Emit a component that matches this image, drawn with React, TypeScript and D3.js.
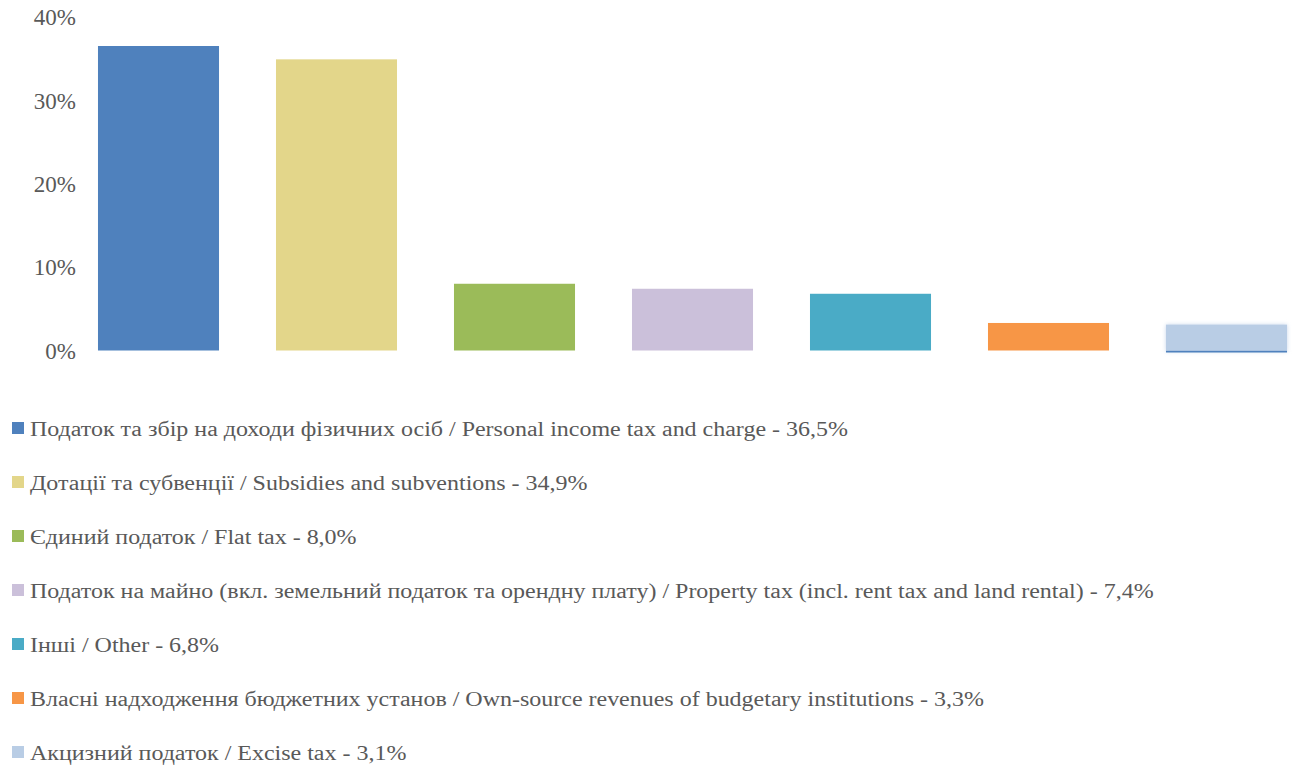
import * as d3 from "d3";
import { useEffect, useRef } from "react";

const categories = [
  "Податок та збір на доходи фізичних осіб / Personal income tax and charge",
  "Дотації та субвенції / Subsidies and subventions",
  "Єдиний податок / Flat tax",
  "Податок на майно (вкл. земельний податок та орендну плату) / Property tax (incl. rent tax and land rental)",
  "Інші / Other",
  "Власні надходження бюджетних установ / Own-source revenues of budgetary institutions",
  "Акцизний податок / Excise tax",
];
const values = [36.5, 34.9, 8.0, 7.4, 6.8, 3.3, 3.1];
const valueLabels = ["36,5%", "34,9%", "8,0%", "7,4%", "6,8%", "3,3%", "3,1%"];
const colors = ["#4f81bd", "#e3d68a", "#9bbb59", "#cbc0da", "#4aabc6", "#f79646", "#b9cde5"];
const yTicks = [0, 10, 20, 30, 40];

const W = 1296;
const H = 765;
const FONT = "Liberation Serif, Times New Roman, Tinos, DejaVu Serif, serif";
const TEXT = "#595959";
// the original text is set wider than what the available fonts give
const STRETCH = 1.17;

export default function App() {
  const svgRef = useRef<SVGSVGElement>(null);

  useEffect(() => {
    if (!svgRef.current) return;
    const svg = d3.select(svgRef.current);
    svg.selectAll("*").remove();

    const x = d3
      .scaleBand<number>()
      .domain(d3.range(values.length))
      .range([69.5, 69.5 + 178 * 7])
      .paddingInner(0.32)
      .paddingOuter(0.16);

    const y = d3.scaleLinear().domain([0, 40]).range([350.5, 16.8]);

    // blur for the last bar's edge
    const defs = svg.append("defs");
    defs
      .append("filter")
      .attr("id", "soft")
      .attr("x", "-10%")
      .attr("y", "-50%")
      .attr("width", "120%")
      .attr("height", "200%")
      .append("feGaussianBlur")
      .attr("stdDeviation", 2);

    // y tick labels
    svg
      .append("g")
      .selectAll("text")
      .data(yTicks)
      .join("text")
      .attr("x", 76)
      .attr("y", (d) => y(d))
      .attr("dy", "0.36em")
      .attr("text-anchor", "end")
      .style("font-family", FONT)
      .attr("font-size", 23)
      .attr("fill", TEXT)
      .text((d) => `${d}%`);

    // glow under the last bar
    const last = values.length - 1;
    svg
      .append("rect")
      .attr("x", x(last)!)
      .attr("y", y(values[last]))
      .attr("width", x.bandwidth())
      .attr("height", y(0) - y(values[last]) + 1)
      .attr("fill", "#c9d8ec")
      .attr("filter", "url(#soft)");
    svg
      .append("rect")
      .attr("x", x(last)!)
      .attr("y", y(0))
      .attr("width", x.bandwidth())
      .attr("height", 2)
      .attr("fill", "#4f81bd");

    // bars
    svg
      .append("g")
      .selectAll("rect")
      .data(values)
      .join("rect")
      .attr("x", (_, i) => x(i)!)
      .attr("y", (d) => y(d))
      .attr("width", x.bandwidth())
      .attr("height", (d) => y(0) - y(d))
      .attr("fill", (_, i) => colors[i]);

    // legend
    const legend = svg
      .append("g")
      .selectAll("g")
      .data(categories)
      .join("g")
      .attr("transform", (_, i) => `translate(0, ${436 + i * 54})`);

    legend
      .append("rect")
      .attr("x", 12)
      .attr("y", -14)
      .attr("width", 12)
      .attr("height", 12)
      .attr("fill", (_, i) => colors[i]);

    legend
      .append("text")
      .attr("transform", `translate(30, 0) scale(${STRETCH}, 1)`)
      .style("font-family", FONT)
      .attr("font-size", 20.5)
      .attr("fill", TEXT)
      .text((d, i) => `${d} - ${valueLabels[i]}`);

    return () => {
      svg.selectAll("*").remove();
    };
  }, []);

  return (
    <svg
      ref={svgRef}
      width={W}
      height={H}
      style={{ position: "absolute", left: 0, top: 0, background: "#fff" }}
    />
  );
}
